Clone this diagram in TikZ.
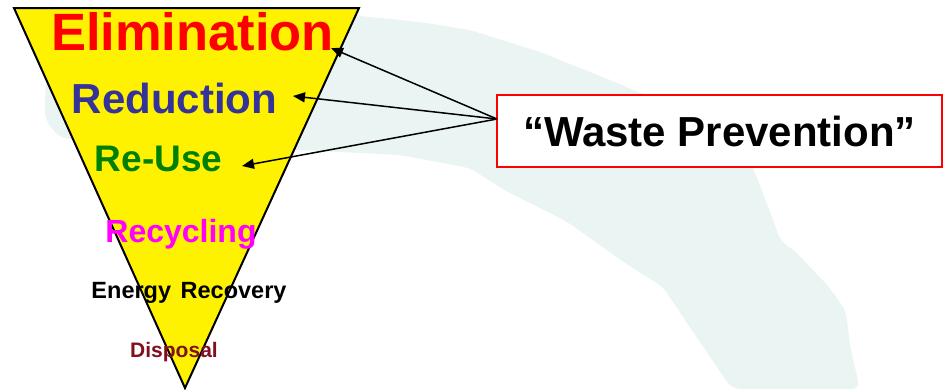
\documentclass[tikz,border=0pt]{standalone}
\usepackage{fontspec}
\setmainfont{Liberation Sans}
\usetikzlibrary{arrows.meta}
\definecolor{bgband}{HTML}{EAF4F2}
\definecolor{redtxt}{HTML}{FF0000}
\definecolor{bluetxt}{HTML}{333399}
\definecolor{greentxt}{HTML}{008000}
\definecolor{magtxt}{HTML}{FF00FF}
\definecolor{maroontxt}{HTML}{801020}
\tikzset{
  lvl/.style={anchor=base, inner sep=0pt, font=\bfseries},
  ptr/.style={draw=black, line width=1.5pt, -{Triangle[length=12pt,width=10pt]}},
}
\newcommand{\fsz}[1]{\fontsize{#1}{#1}\selectfont}
\begin{document}
\begin{tikzpicture}[x=1pt,y=-1pt]
\useasboundingbox (0,0) rectangle (943,389);
% faint background band
\fill[bgband, rounded corners=8pt] (45,95) -- (48,70) -- (80,55) -- (150,40) -- (250,25) -- (350,15)
  -- (420,22) -- (470,30) -- (540,52) -- (610,80) -- (650,97) -- (700,105) -- (745,150)
  -- (760,185) -- (781,242) -- (794,250) -- (829,287) -- (846,311) -- (850,346) -- (860,389)
  -- (732,389) -- (691,329) -- (663,287) -- (625,263) -- (566,221) -- (504,190) -- (470,168)
  -- (400,155) -- (300,150) -- (150,145) -- (60,138) -- (45,120) -- cycle;
% inverted triangle
\draw[fill=yellow, line width=2pt, line join=miter] (14,8) -- (359,8) -- (185,388) -- cycle;
% level labels
\node[lvl, text=redtxt, font=\bfseries\fsz{52.5}] (elim) at (192.5,50) {Elimination};
\node[lvl, text=bluetxt, font=\bfseries\fsz{42}] (red) at (174.5,113) {Reduction};
\node[lvl, text=greentxt, font=\bfseries\fsz{37}] (reuse) at (158.5,171) {Re-Use};
\node[lvl, text=magtxt, font=\bfseries\fsz{32}] (recyc) at (181,242) {Recycling};
\node[lvl, text=black, font=\bfseries\fsz{23.5}] (energy) at (189,298) {Energy\hspace{3pt} Recovery};
\node[lvl, text=maroontxt, font=\bfseries\fsz{21}] (disp) at (174,357) {Disposal};
% waste prevention box
\node[draw=red, line width=1.5pt, fill=white, minimum width=445pt, minimum height=72pt,
  inner sep=0pt, font=\bfseries\fsz{42}] (wp) at (719.5,131) {“Waste Prevention”};
\coordinate (src) at (497,119);
\coordinate (tipA) at (331,48);
\coordinate (tipB) at (293,96);
\coordinate (tipC) at (242,166);
\draw[ptr] (src) -- (tipA);
\draw[ptr] (src) -- (tipB);
\draw[ptr] (src) -- (tipC);
\end{tikzpicture}
\end{document}
